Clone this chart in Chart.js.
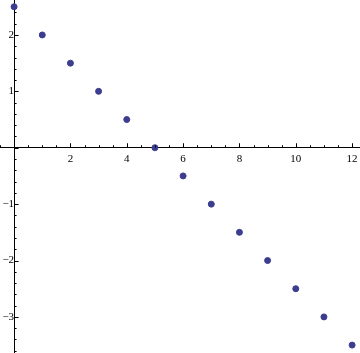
<!DOCTYPE html>
<html>
<head>
<meta charset="utf-8">
<script src="https://cdn.jsdelivr.net/npm/chart.js@4"></script>
<style>
  html, body { margin: 0; padding: 0; background: #fff; }
  #wrap { width: 360px; height: 353px; }
</style>
</head>
<body>
<div id="wrap"><canvas id="plot"></canvas></div>
<script>
const xValues = [0, 1, 2, 3, 4, 5, 6, 7, 8, 9, 10, 11, 12];
const yValues = [2.5, 2, 1.5, 1, 0.5, 0, -0.5, -1, -1.5, -2, -2.5, -3, -3.5];
const xTicks = [2, 4, 6, 8, 10, 12];
const yTicks = [-3, -2, -1, 1, 2];

const points = xValues.map((x, i) => ({ x: x, y: yValues[i] }));

// no extra room for labels that stick out of the plot
const noPad = s => {
  s.paddingTop = 0; s.paddingBottom = 0;
  s.paddingLeft = 0; s.paddingRight = 0;
};

// small tick marks like Mathematica (pointing into the plot)
const tickMarks = {
  id: 'tickMarks',
  afterDraw(chart) {
    const ctx = chart.ctx;
    const sx = chart.scales.x, sy = chart.scales.y;
    const x0 = sx.getPixelForValue(0), y0 = sy.getPixelForValue(0);
    ctx.save();
    ctx.strokeStyle = '#000';
    ctx.lineWidth = 1;
    ctx.beginPath();
    for (let v = -0.5; v <= 12.3; v += 0.5) {
      const px = Math.round(sx.getPixelForValue(v)) + 0.5;
      const len = (v % 2 === 0) ? 4.5 : 2.5;
      ctx.moveTo(px, y0);
      ctx.lineTo(px, y0 - len);
    }
    for (let v = -3.6; v <= 2.6; v += 0.2) {
      const r = Math.round(v * 10) / 10;
      const py = Math.round(sy.getPixelForValue(r)) + 0.5;
      const len = (Math.abs(r % 1) < 1e-6) ? 4.5 : 2.5;
      ctx.moveTo(x0, py);
      ctx.lineTo(x0 + len, py);
    }
    ctx.stroke();
    ctx.restore();
  }
};

new Chart(document.getElementById('plot'), {
  type: 'scatter',
  data: {
    datasets: [{
      data: points,
      backgroundColor: '#3d3d8f',
      borderColor: '#3d3d8f',
      pointRadius: 3,
      pointHoverRadius: 3,
      clip: false
    }]
  },
  options: {
    responsive: true,
    maintainAspectRatio: false,
    animation: false,
    events: [],
    layout: { padding: 0, autoPadding: false },
    plugins: { legend: { display: false }, tooltip: { enabled: false } },
    scales: {
      x: {
        type: 'linear',
        min: -0.5,
        max: 12.28,
        position: { y: 0 },
        afterBuildTicks: s => { s.ticks = xTicks.map(v => ({ value: v })); },
        afterFit: noPad,
        grid: { display: false, drawTicks: false },
        border: { display: true, color: '#000', width: 1 },
        ticks: {
          color: '#000',
          padding: 5,
          maxRotation: 0,
          autoSkip: false,
          font: { family: 'Liberation Serif', size: 11 }
        }
      },
      y: {
        type: 'linear',
        min: -3.64,
        max: 2.62,
        position: { x: 0 },
        afterBuildTicks: s => { s.ticks = yTicks.map(v => ({ value: v })); },
        afterFit: noPad,
        grid: { display: false, drawTicks: false },
        border: { display: true, color: '#000', width: 1 },
        ticks: {
          color: '#000',
          padding: 4,
          autoSkip: false,
          callback: v => (v < 0 ? '\u2212' + Math.abs(v) : String(v)),
          font: { family: 'Liberation Serif', size: 11 }
        }
      }
    }
  },
  plugins: [tickMarks]
});
</script>
</body>
</html>
